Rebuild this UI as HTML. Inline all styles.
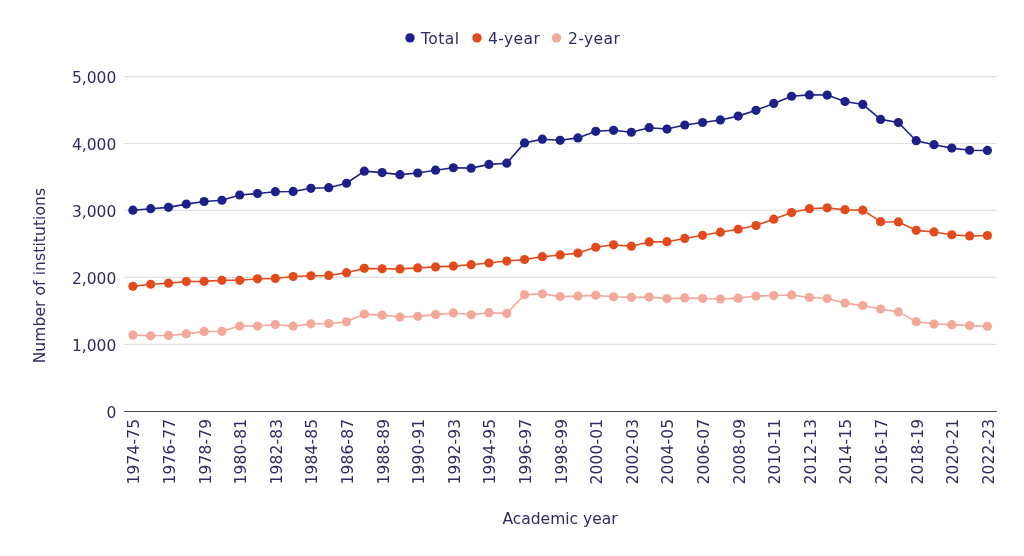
<!DOCTYPE html><html><head><meta charset="utf-8"><title>Number of institutions</title>
<style>html,body{margin:0;padding:0;background:#fff}svg{display:block}text{font-family:"DejaVu Sans", "Liberation Sans", sans-serif;fill:#2b2d5e}</style></head><body>
<svg width="1024" height="556" viewBox="0 0 1024 556">
<rect width="1024" height="556" fill="#fff"/>
<line x1="124.0" x2="996.3" y1="344.35" y2="344.35" stroke="#e0e0e2" stroke-width="1.2"/>
<line x1="124.0" x2="996.3" y1="277.40" y2="277.40" stroke="#e0e0e2" stroke-width="1.2"/>
<line x1="124.0" x2="996.3" y1="210.45" y2="210.45" stroke="#e0e0e2" stroke-width="1.2"/>
<line x1="124.0" x2="996.3" y1="143.50" y2="143.50" stroke="#e0e0e2" stroke-width="1.2"/>
<line x1="124.0" x2="996.3" y1="76.55" y2="76.55" stroke="#e0e0e2" stroke-width="1.2"/>
<line x1="124.0" x2="996.8" y1="411.45" y2="411.45" stroke="#484848" stroke-width="1.05"/>
<text x="116.3" y="417.90" text-anchor="end" font-size="15.5">0</text>
<text x="116.3" y="350.95" text-anchor="end" font-size="15.5">1,000</text>
<text x="116.3" y="284.00" text-anchor="end" font-size="15.5">2,000</text>
<text x="116.3" y="217.05" text-anchor="end" font-size="15.5">3,000</text>
<text x="116.3" y="150.10" text-anchor="end" font-size="15.5">4,000</text>
<text x="116.3" y="83.15" text-anchor="end" font-size="15.5">5,000</text>
<text transform="translate(132.90,418.8) rotate(-90)" text-anchor="end" font-size="15.5" letter-spacing="0.14" dy="6.4">1974-75</text>
<text transform="translate(168.51,418.8) rotate(-90)" text-anchor="end" font-size="15.5" letter-spacing="0.14" dy="6.4">1976-77</text>
<text transform="translate(204.11,418.8) rotate(-90)" text-anchor="end" font-size="15.5" letter-spacing="0.14" dy="6.4">1978-79</text>
<text transform="translate(239.71,418.8) rotate(-90)" text-anchor="end" font-size="15.5" letter-spacing="0.14" dy="6.4">1980-81</text>
<text transform="translate(275.32,418.8) rotate(-90)" text-anchor="end" font-size="15.5" letter-spacing="0.14" dy="6.4">1982-83</text>
<text transform="translate(310.92,418.8) rotate(-90)" text-anchor="end" font-size="15.5" letter-spacing="0.14" dy="6.4">1984-85</text>
<text transform="translate(346.53,418.8) rotate(-90)" text-anchor="end" font-size="15.5" letter-spacing="0.14" dy="6.4">1986-87</text>
<text transform="translate(382.13,418.8) rotate(-90)" text-anchor="end" font-size="15.5" letter-spacing="0.14" dy="6.4">1988-89</text>
<text transform="translate(417.73,418.8) rotate(-90)" text-anchor="end" font-size="15.5" letter-spacing="0.14" dy="6.4">1990-91</text>
<text transform="translate(453.34,418.8) rotate(-90)" text-anchor="end" font-size="15.5" letter-spacing="0.14" dy="6.4">1992-93</text>
<text transform="translate(488.94,418.8) rotate(-90)" text-anchor="end" font-size="15.5" letter-spacing="0.14" dy="6.4">1994-95</text>
<text transform="translate(524.55,418.8) rotate(-90)" text-anchor="end" font-size="15.5" letter-spacing="0.14" dy="6.4">1996-97</text>
<text transform="translate(560.15,418.8) rotate(-90)" text-anchor="end" font-size="15.5" letter-spacing="0.14" dy="6.4">1998-99</text>
<text transform="translate(595.75,418.8) rotate(-90)" text-anchor="end" font-size="15.5" letter-spacing="0.14" dy="6.4">2000-01</text>
<text transform="translate(631.36,418.8) rotate(-90)" text-anchor="end" font-size="15.5" letter-spacing="0.14" dy="6.4">2002-03</text>
<text transform="translate(666.96,418.8) rotate(-90)" text-anchor="end" font-size="15.5" letter-spacing="0.14" dy="6.4">2004-05</text>
<text transform="translate(702.57,418.8) rotate(-90)" text-anchor="end" font-size="15.5" letter-spacing="0.14" dy="6.4">2006-07</text>
<text transform="translate(738.17,418.8) rotate(-90)" text-anchor="end" font-size="15.5" letter-spacing="0.14" dy="6.4">2008-09</text>
<text transform="translate(773.77,418.8) rotate(-90)" text-anchor="end" font-size="15.5" letter-spacing="0.14" dy="6.4">2010-11</text>
<text transform="translate(809.38,418.8) rotate(-90)" text-anchor="end" font-size="15.5" letter-spacing="0.14" dy="6.4">2012-13</text>
<text transform="translate(844.98,418.8) rotate(-90)" text-anchor="end" font-size="15.5" letter-spacing="0.14" dy="6.4">2014-15</text>
<text transform="translate(880.59,418.8) rotate(-90)" text-anchor="end" font-size="15.5" letter-spacing="0.14" dy="6.4">2016-17</text>
<text transform="translate(916.19,418.8) rotate(-90)" text-anchor="end" font-size="15.5" letter-spacing="0.14" dy="6.4">2018-19</text>
<text transform="translate(951.79,418.8) rotate(-90)" text-anchor="end" font-size="15.5" letter-spacing="0.14" dy="6.4">2020-21</text>
<text transform="translate(987.40,418.8) rotate(-90)" text-anchor="end" font-size="15.5" letter-spacing="0.14" dy="6.4">2022-23</text>
<text transform="translate(45.2,275.6) rotate(-90)" text-anchor="middle" font-size="15.5" letter-spacing="0.1">Number of institutions</text>
<text x="560" y="524.4" text-anchor="middle" font-size="15.5">Academic year</text>
<polyline fill="none" stroke="#f4a89a" stroke-width="1.6" stroke-linejoin="round" points="132.90,335.11 150.70,335.78 168.51,335.45 186.31,333.84 204.11,331.43 221.91,331.29 239.71,326.01 257.52,326.01 275.32,324.53 293.12,326.21 310.92,323.86 328.72,323.53 346.53,321.85 364.33,314.09 382.13,315.16 399.93,317.03 417.73,316.36 435.54,314.62 453.34,312.95 471.14,314.76 488.94,312.68 506.74,313.42 524.55,294.67 542.35,293.80 560.15,296.61 577.95,296.08 595.75,295.34 613.56,296.82 631.36,297.35 649.16,297.08 666.96,298.62 684.76,297.89 702.57,298.49 720.37,299.02 738.17,298.15 755.97,296.08 773.77,295.54 791.58,294.94 809.38,297.49 827.18,298.49 844.98,303.11 862.78,305.59 880.59,309.00 898.39,311.88 916.19,321.65 933.99,324.06 951.79,324.67 969.60,325.60 987.40,326.27"/>
<g fill="#f4a89a"><circle cx="132.90" cy="335.11" r="4.6"/><circle cx="150.70" cy="335.78" r="4.6"/><circle cx="168.51" cy="335.45" r="4.6"/><circle cx="186.31" cy="333.84" r="4.6"/><circle cx="204.11" cy="331.43" r="4.6"/><circle cx="221.91" cy="331.29" r="4.6"/><circle cx="239.71" cy="326.01" r="4.6"/><circle cx="257.52" cy="326.01" r="4.6"/><circle cx="275.32" cy="324.53" r="4.6"/><circle cx="293.12" cy="326.21" r="4.6"/><circle cx="310.92" cy="323.86" r="4.6"/><circle cx="328.72" cy="323.53" r="4.6"/><circle cx="346.53" cy="321.85" r="4.6"/><circle cx="364.33" cy="314.09" r="4.6"/><circle cx="382.13" cy="315.16" r="4.6"/><circle cx="399.93" cy="317.03" r="4.6"/><circle cx="417.73" cy="316.36" r="4.6"/><circle cx="435.54" cy="314.62" r="4.6"/><circle cx="453.34" cy="312.95" r="4.6"/><circle cx="471.14" cy="314.76" r="4.6"/><circle cx="488.94" cy="312.68" r="4.6"/><circle cx="506.74" cy="313.42" r="4.6"/><circle cx="524.55" cy="294.67" r="4.6"/><circle cx="542.35" cy="293.80" r="4.6"/><circle cx="560.15" cy="296.61" r="4.6"/><circle cx="577.95" cy="296.08" r="4.6"/><circle cx="595.75" cy="295.34" r="4.6"/><circle cx="613.56" cy="296.82" r="4.6"/><circle cx="631.36" cy="297.35" r="4.6"/><circle cx="649.16" cy="297.08" r="4.6"/><circle cx="666.96" cy="298.62" r="4.6"/><circle cx="684.76" cy="297.89" r="4.6"/><circle cx="702.57" cy="298.49" r="4.6"/><circle cx="720.37" cy="299.02" r="4.6"/><circle cx="738.17" cy="298.15" r="4.6"/><circle cx="755.97" cy="296.08" r="4.6"/><circle cx="773.77" cy="295.54" r="4.6"/><circle cx="791.58" cy="294.94" r="4.6"/><circle cx="809.38" cy="297.49" r="4.6"/><circle cx="827.18" cy="298.49" r="4.6"/><circle cx="844.98" cy="303.11" r="4.6"/><circle cx="862.78" cy="305.59" r="4.6"/><circle cx="880.59" cy="309.00" r="4.6"/><circle cx="898.39" cy="311.88" r="4.6"/><circle cx="916.19" cy="321.65" r="4.6"/><circle cx="933.99" cy="324.06" r="4.6"/><circle cx="951.79" cy="324.67" r="4.6"/><circle cx="969.60" cy="325.60" r="4.6"/><circle cx="987.40" cy="326.27" r="4.6"/></g>
<polyline fill="none" stroke="#e34a1b" stroke-width="1.6" stroke-linejoin="round" points="132.90,286.37 150.70,284.23 168.51,283.22 186.31,281.55 204.11,281.35 221.91,280.28 239.71,280.28 257.52,278.81 275.32,278.47 293.12,276.53 310.92,275.73 328.72,275.46 346.53,272.71 364.33,268.36 382.13,268.76 399.93,268.90 417.73,267.96 435.54,266.89 453.34,266.09 471.14,264.68 488.94,263.01 506.74,261.06 524.55,259.52 542.35,256.71 560.15,254.97 577.95,253.10 595.75,247.27 613.56,244.80 631.36,246.20 649.16,241.92 666.96,241.72 684.76,238.44 702.57,235.29 720.37,232.21 738.17,229.26 755.97,225.58 773.77,219.15 791.58,212.59 809.38,208.71 827.18,207.84 844.98,209.71 862.78,210.18 880.59,221.70 898.39,221.97 916.19,230.33 933.99,231.94 951.79,234.75 969.60,235.96 987.40,235.49"/>
<g fill="#e34a1b"><circle cx="132.90" cy="286.37" r="4.6"/><circle cx="150.70" cy="284.23" r="4.6"/><circle cx="168.51" cy="283.22" r="4.6"/><circle cx="186.31" cy="281.55" r="4.6"/><circle cx="204.11" cy="281.35" r="4.6"/><circle cx="221.91" cy="280.28" r="4.6"/><circle cx="239.71" cy="280.28" r="4.6"/><circle cx="257.52" cy="278.81" r="4.6"/><circle cx="275.32" cy="278.47" r="4.6"/><circle cx="293.12" cy="276.53" r="4.6"/><circle cx="310.92" cy="275.73" r="4.6"/><circle cx="328.72" cy="275.46" r="4.6"/><circle cx="346.53" cy="272.71" r="4.6"/><circle cx="364.33" cy="268.36" r="4.6"/><circle cx="382.13" cy="268.76" r="4.6"/><circle cx="399.93" cy="268.90" r="4.6"/><circle cx="417.73" cy="267.96" r="4.6"/><circle cx="435.54" cy="266.89" r="4.6"/><circle cx="453.34" cy="266.09" r="4.6"/><circle cx="471.14" cy="264.68" r="4.6"/><circle cx="488.94" cy="263.01" r="4.6"/><circle cx="506.74" cy="261.06" r="4.6"/><circle cx="524.55" cy="259.52" r="4.6"/><circle cx="542.35" cy="256.71" r="4.6"/><circle cx="560.15" cy="254.97" r="4.6"/><circle cx="577.95" cy="253.10" r="4.6"/><circle cx="595.75" cy="247.27" r="4.6"/><circle cx="613.56" cy="244.80" r="4.6"/><circle cx="631.36" cy="246.20" r="4.6"/><circle cx="649.16" cy="241.92" r="4.6"/><circle cx="666.96" cy="241.72" r="4.6"/><circle cx="684.76" cy="238.44" r="4.6"/><circle cx="702.57" cy="235.29" r="4.6"/><circle cx="720.37" cy="232.21" r="4.6"/><circle cx="738.17" cy="229.26" r="4.6"/><circle cx="755.97" cy="225.58" r="4.6"/><circle cx="773.77" cy="219.15" r="4.6"/><circle cx="791.58" cy="212.59" r="4.6"/><circle cx="809.38" cy="208.71" r="4.6"/><circle cx="827.18" cy="207.84" r="4.6"/><circle cx="844.98" cy="209.71" r="4.6"/><circle cx="862.78" cy="210.18" r="4.6"/><circle cx="880.59" cy="221.70" r="4.6"/><circle cx="898.39" cy="221.97" r="4.6"/><circle cx="916.19" cy="230.33" r="4.6"/><circle cx="933.99" cy="231.94" r="4.6"/><circle cx="951.79" cy="234.75" r="4.6"/><circle cx="969.60" cy="235.96" r="4.6"/><circle cx="987.40" cy="235.49" r="4.6"/></g>
<polyline fill="none" stroke="#1d2088" stroke-width="1.6" stroke-linejoin="round" points="132.90,210.18 150.70,208.71 168.51,207.37 186.31,204.09 204.11,201.48 221.91,200.27 239.71,194.98 257.52,193.51 275.32,191.70 293.12,191.44 310.92,188.29 328.72,187.69 346.53,183.27 364.33,171.15 382.13,172.62 399.93,174.63 417.73,173.02 435.54,170.21 453.34,167.74 471.14,168.14 488.94,164.39 506.74,163.18 524.55,142.90 542.35,139.22 560.15,140.29 577.95,137.88 595.75,131.32 613.56,130.31 631.36,132.25 649.16,127.70 666.96,129.04 684.76,125.02 702.57,122.48 720.37,119.93 738.17,116.12 755.97,110.36 773.77,103.40 791.58,96.23 809.38,94.89 827.18,95.03 844.98,101.52 862.78,104.47 880.59,119.40 898.39,122.54 916.19,140.69 933.99,144.71 951.79,148.12 969.60,150.26 987.40,150.46"/>
<g fill="#1d2088"><circle cx="132.90" cy="210.18" r="4.6"/><circle cx="150.70" cy="208.71" r="4.6"/><circle cx="168.51" cy="207.37" r="4.6"/><circle cx="186.31" cy="204.09" r="4.6"/><circle cx="204.11" cy="201.48" r="4.6"/><circle cx="221.91" cy="200.27" r="4.6"/><circle cx="239.71" cy="194.98" r="4.6"/><circle cx="257.52" cy="193.51" r="4.6"/><circle cx="275.32" cy="191.70" r="4.6"/><circle cx="293.12" cy="191.44" r="4.6"/><circle cx="310.92" cy="188.29" r="4.6"/><circle cx="328.72" cy="187.69" r="4.6"/><circle cx="346.53" cy="183.27" r="4.6"/><circle cx="364.33" cy="171.15" r="4.6"/><circle cx="382.13" cy="172.62" r="4.6"/><circle cx="399.93" cy="174.63" r="4.6"/><circle cx="417.73" cy="173.02" r="4.6"/><circle cx="435.54" cy="170.21" r="4.6"/><circle cx="453.34" cy="167.74" r="4.6"/><circle cx="471.14" cy="168.14" r="4.6"/><circle cx="488.94" cy="164.39" r="4.6"/><circle cx="506.74" cy="163.18" r="4.6"/><circle cx="524.55" cy="142.90" r="4.6"/><circle cx="542.35" cy="139.22" r="4.6"/><circle cx="560.15" cy="140.29" r="4.6"/><circle cx="577.95" cy="137.88" r="4.6"/><circle cx="595.75" cy="131.32" r="4.6"/><circle cx="613.56" cy="130.31" r="4.6"/><circle cx="631.36" cy="132.25" r="4.6"/><circle cx="649.16" cy="127.70" r="4.6"/><circle cx="666.96" cy="129.04" r="4.6"/><circle cx="684.76" cy="125.02" r="4.6"/><circle cx="702.57" cy="122.48" r="4.6"/><circle cx="720.37" cy="119.93" r="4.6"/><circle cx="738.17" cy="116.12" r="4.6"/><circle cx="755.97" cy="110.36" r="4.6"/><circle cx="773.77" cy="103.40" r="4.6"/><circle cx="791.58" cy="96.23" r="4.6"/><circle cx="809.38" cy="94.89" r="4.6"/><circle cx="827.18" cy="95.03" r="4.6"/><circle cx="844.98" cy="101.52" r="4.6"/><circle cx="862.78" cy="104.47" r="4.6"/><circle cx="880.59" cy="119.40" r="4.6"/><circle cx="898.39" cy="122.54" r="4.6"/><circle cx="916.19" cy="140.69" r="4.6"/><circle cx="933.99" cy="144.71" r="4.6"/><circle cx="951.79" cy="148.12" r="4.6"/><circle cx="969.60" cy="150.26" r="4.6"/><circle cx="987.40" cy="150.46" r="4.6"/></g>
<circle cx="410" cy="37.9" r="4.7" fill="#1d2088"/><text x="421" y="44.1" font-size="15.5" letter-spacing="0.45">Total</text>
<circle cx="477" cy="37.9" r="4.7" fill="#e34a1b"/><text x="488" y="44.1" font-size="15.5" letter-spacing="0.4">4-year</text>
<circle cx="556.5" cy="37.9" r="4.7" fill="#f4a89a"/><text x="568" y="44.1" font-size="15.5" letter-spacing="0.4">2-year</text>
</svg></body></html>
